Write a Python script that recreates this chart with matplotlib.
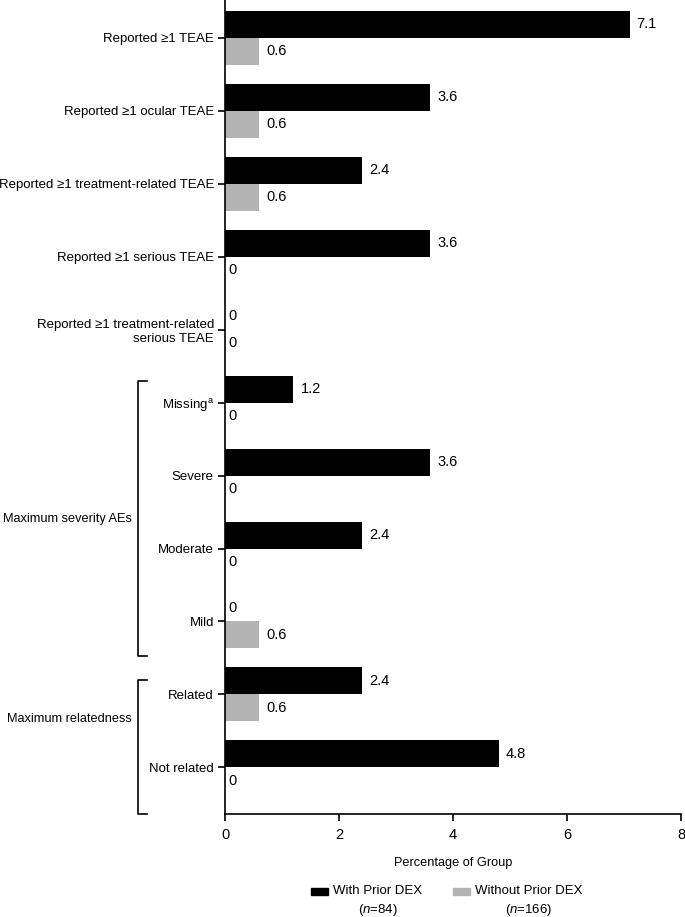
import numpy as np
import matplotlib.pyplot as plt
from matplotlib.patches import Rectangle
from matplotlib.transforms import blended_transform_factory

plt.rcParams['font.family'] = ['Liberation Sans', 'DejaVu Sans']
plt.rcParams['mathtext.fontset'] = 'custom'
plt.rcParams['mathtext.it'] = 'Liberation Sans:italic'
plt.rcParams['mathtext.rm'] = 'Liberation Sans'

categories = [
    "Reported \u22651 TEAE",
    "Reported \u22651 ocular TEAE",
    "Reported \u22651 treatment-related TEAE",
    "Reported \u22651 serious TEAE",
    "Reported \u22651 treatment-related\nserious TEAE",
    "Missing$^{\\mathrm{a}}$",
    "Severe",
    "Moderate",
    "Mild",
    "Related",
    "Not related",
]
with_dex = [7.1, 3.6, 2.4, 3.6, 0, 1.2, 3.6, 2.4, 0, 2.4, 4.8]
without_dex = [0.6, 0.6, 0.6, 0, 0, 0, 0, 0, 0.6, 0.6, 0]
x_ticks = [0, 2, 4, 6, 8]

fs = 9.5
vfs = 10.5
fig = plt.figure(figsize=(6.85, 9.17), dpi=100)
ax = fig.add_axes([225 / 685, 1 - 814 / 917, 456 / 685, 814 / 917])

y = np.arange(len(categories))
h = 0.37
ax.barh(y - h / 2, with_dex, height=h, color='black')
ax.barh(y + h / 2, without_dex, height=h, color='#b3b3b3')

for yi, v in zip(y, with_dex):
    ax.annotate(f"{v:g}", (v, yi - h / 2), xytext=(7 if v else 3, 0),
                textcoords='offset pixels', va='center', ha='left', fontsize=vfs)
for yi, v in zip(y, without_dex):
    ax.annotate(f"{v:g}", (v, yi + h / 2), xytext=(7 if v else 3, 0),
                textcoords='offset pixels', va='center', ha='left', fontsize=vfs)

ax.set_xlim(0, 8)
ax.set_ylim(10.64, -0.52)
ax.set_xticks(x_ticks)
ax.set_yticks(y)
ax.set_yticklabels(categories, fontsize=fs, multialignment='right')
ax.tick_params(axis='x', labelsize=10.5, length=5, width=1.2, pad=5)
ax.tick_params(axis='y', length=5, width=1.2, pad=3)
for s in ['top', 'right']:
    ax.spines[s].set_visible(False)
for s in ['left', 'bottom']:
    ax.spines[s].set_linewidth(1.2)
ax.set_xlabel("Percentage of Group", fontsize=9.2, labelpad=11)

# group brackets
tr = blended_transform_factory(fig.transFigure, ax.transData)
bx, tx = 138 / 685, 147 / 685
for top, bot, label, ly in [(4.7, 8.47, "Maximum severity AEs", 6.6),
                            (8.8, 10.64, "Maximum relatedness", 9.34)]:
    ax.plot([tx, bx, bx, tx], [top, top, bot, bot], transform=tr,
            color='black', lw=1.2, clip_on=False)
    ax.text(132 / 685, ly, label, transform=tr, ha='right', va='center', fontsize=9.2)

# legend
pw, ph = 17 / 685, 7 / 917
ly = 1 - 891 / 917
for px, color, name, n in [(311, 'black', "With Prior DEX", "84"),
                           (453, '#b3b3b3', "Without Prior DEX", "166")]:
    fig.patches.append(Rectangle((px / 685, ly - ph / 2), pw, ph, color=color,
                                 transform=fig.transFigure))
    t = fig.text(px / 685 + 22 / 685, ly, name, ha='left', va='center', fontsize=fs)
    fig.canvas.draw()
    bb = t.get_window_extent().transformed(fig.transFigure.inverted())
    fig.text((bb.x0 + bb.x1) / 2, 1 - 910 / 917, f"($n$={n})", ha='center',
             va='center', fontsize=fs)

fig.savefig("out.png", dpi=100)
